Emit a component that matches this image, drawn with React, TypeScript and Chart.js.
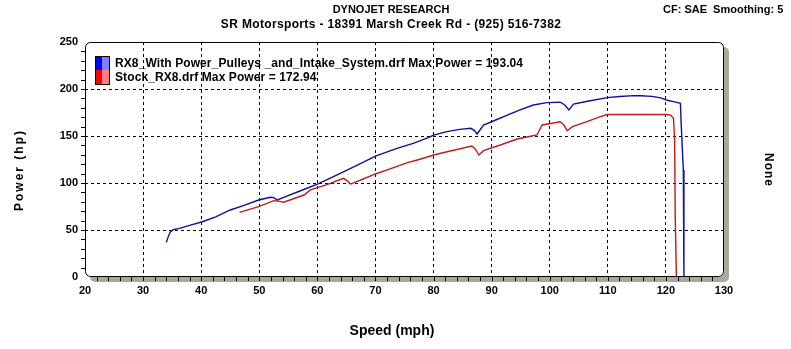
import React, { useEffect, useRef } from "react";
import { Chart, registerables } from "chart.js";
Chart.register(...registerables);

// ---- data ----
const titleLine1 = "DYNOJET RESEARCH";
const titleLine2 = "SR Motorsports - 18391 Marsh Creek Rd - (925) 516-7382";
const cornerText = "CF: SAE  Smoothing: 5";
const xAxisTitle = "Speed (mph)";
const yAxisTitle = "Power (hp)";
const y2AxisTitle = "None";

const xMin = 20;
const xMax = 130;
const xStep = 10;
const yMin = 0;
const yMax = 250;
const yStep = 50;

const blueLabel = "RX8_With Power_Pulleys _and_Intake_System.drf Max Power = 193.04";
const blueSpeed = [
  34.0, 34.4, 34.7, 35.3, 36.1, 38.0, 40.2, 42.5, 45.0, 47.5, 49.9, 51.9, 52.5, 53.1, 54.2,
  57.0, 60.0, 62.5, 65.1, 67.5, 70.0, 73.7, 76.5, 79.2, 80.0, 82.3, 84.5, 86.4, 87.0, 87.5,
  88.6, 90.5, 92.7, 95.0, 97.2, 99.5, 101.8, 102.6, 103.3, 104.1, 106.5, 109.9, 112.0, 114.5,
  115.6, 117.6, 119.1, 120.2, 121.3, 122.5, 122.6, 123.0, 123.1,
];
const bluePower = [
  36.9, 44.0, 48.2, 50.5, 51.5, 55.0, 58.8, 64.0, 71.3, 76.5, 81.9, 84.8, 84.5, 81.9, 84.8,
  91.5, 98.9, 106.0, 113.8, 121.0, 128.7, 136.9, 142.2, 148.6, 151.0, 154.6, 157.0, 158.2, 156.0, 152.1,
  161.7, 166.5, 172.3, 178.0, 183.0, 185.5, 185.9, 183.0, 177.7, 184.0, 187.0, 190.8, 192.0, 193.0,
  192.8, 192.2, 190.6, 188.0, 186.5, 184.8, 167.0, 113.8, 0,
];

const redLabel = "Stock_RX8.drf Max Power = 172.94";
const redSpeed = [
  46.6, 49.9, 52.5, 53.5, 54.2, 56.0, 57.7, 58.8, 61.5, 64.5, 65.2, 65.7, 67.8, 70.0, 72.5,
  75.5, 77.2, 79.5, 80.0, 82.9, 86.6, 87.2, 87.8, 88.6, 91.5, 94.4, 96.5, 97.8, 98.7, 101.8,
  102.4, 103.0, 103.9, 106.4, 108.5, 109.9, 115.0, 120.2, 120.8, 121.3, 121.5, 121.6, 121.8,
];
const redPower = [
  68.8, 74.8, 81.2, 80.5, 79.5, 83.5, 87.2, 92.6, 98.0, 105.0, 102.0, 98.9, 104.0, 109.6, 115.0,
  121.6, 124.5, 128.7, 129.8, 134.0, 139.4, 136.0, 129.8, 134.4, 140.4, 146.8, 149.5, 151.1, 161.7, 165.2,
  162.0, 155.6, 159.9, 165.2, 170.0, 172.9, 172.9, 172.9, 172.3, 168.8, 145.7, 67.7, 0,
];

const FONT = "'Liberation Sans', Arial, sans-serif";
const SHADOW = "#aca899";

function roundRect(ctx: CanvasRenderingContext2D, x: number, y: number, w: number, h: number, r: number) {
  ctx.beginPath();
  ctx.moveTo(x + r, y);
  ctx.lineTo(x + w - r, y);
  ctx.arcTo(x + w, y, x + w, y + r, r);
  ctx.lineTo(x + w, y + h - r);
  ctx.arcTo(x + w, y + h, x + w - r, y + h, r);
  ctx.lineTo(x + r, y + h);
  ctx.arcTo(x, y + h, x, y + h - r, r);
  ctx.lineTo(x, y + r);
  ctx.arcTo(x, y, x + r, y, r);
  ctx.closePath();
}

const framePlugin = {
  id: "frame",
  beforeDraw(chart: any) {
    const { ctx, chartArea: a } = chart;
    ctx.save();
    ctx.fillStyle = "#fff";
    ctx.fillRect(0, 0, chart.width, chart.height);
    ctx.fillStyle = SHADOW;
    roundRect(ctx, a.left + 5, a.top + 5, a.right - a.left, a.bottom - a.top, 5);
    ctx.fill();
    ctx.fillStyle = "#fff";
    roundRect(ctx, a.left, a.top, a.right - a.left, a.bottom - a.top, 5);
    ctx.fill();
    ctx.restore();
  },
  afterDraw(chart: any) {
    const { ctx, chartArea: a } = chart;
    const xs = chart.scales.x;
    const ys = chart.scales.y;
    ctx.save();
    // frame
    ctx.strokeStyle = "#000";
    ctx.lineWidth = 1;
    roundRect(ctx, a.left + 0.5, a.top + 0.5, a.right - a.left - 1, a.bottom - a.top - 1, 5);
    ctx.stroke();

    // minor ticks on bottom strip
    ctx.beginPath();
    for (let v = xMin + 2; v < xMax; v += 2) {
      const px = Math.round(xs.getPixelForValue(v)) + 0.5;
      ctx.moveTo(px, a.bottom);
      ctx.lineTo(px, a.bottom + 4);
    }
    // y minor ticks (left, outside)
    for (let v = yMin + 10; v < yMax; v += 10) {
      const py = Math.round(ys.getPixelForValue(v)) + 0.5;
      ctx.moveTo(a.left - 4, py);
      ctx.lineTo(a.left, py);
    }
    ctx.stroke();

    // tick labels
    ctx.fillStyle = "#000";
    ctx.font = `bold 11px ${FONT}`;
    ctx.textAlign = "center";
    ctx.textBaseline = "middle";
    xs.ticks.forEach((t: any) => {
      ctx.fillText(String(t.value), xs.getPixelForValue(t.value), a.bottom + 14);
    });
    ctx.textAlign = "right";
    ys.ticks.forEach((t: any) => {
      ctx.fillText(String(t.value), a.left - 7, ys.getPixelForValue(t.value));
    });

    // titles
    ctx.textAlign = "center";
    ctx.font = `bold 11px ${FONT}`;
    ctx.fillText(titleLine1, 391, 10);
    ctx.save();
    ctx.font = `bold 12px ${FONT}`;
    (ctx as any).letterSpacing = "0.35px";
    ctx.fillText(titleLine2, 391, 25);
    ctx.restore();
    ctx.textAlign = "left";
    ctx.fillText(cornerText, 663, 10);

    ctx.font = `bold 14px ${FONT}`;
    ctx.textAlign = "center";
    ctx.fillText(xAxisTitle, 392, 331);

    ctx.font = `bold 12px ${FONT}`;
    ctx.save();
    ctx.translate(20, 170);
    ctx.rotate(-Math.PI / 2);
    (ctx as any).letterSpacing = "2px";
    ctx.fillText(yAxisTitle, 0, 0);
    ctx.restore();

    ctx.save();
    ctx.translate(768, 170);
    ctx.rotate(Math.PI / 2);
    (ctx as any).letterSpacing = "1px";
    ctx.fillText(y2AxisTitle, 0, 0);
    ctx.restore();

    // legend
    const sw = [
      ["#0000ff", "#8080ff"],
      ["#ff0000", "#ff8080"],
    ];
    const lx = 95;
    const ly = 56;
    chart.data.datasets.forEach((ds: any, i: number) => {
      const y0 = ly + i * 14;
      ctx.fillStyle = sw[i][0];
      ctx.fillRect(lx, y0, 7, 14);
      ctx.fillStyle = sw[i][1];
      ctx.fillRect(lx + 7, y0, 7, 14);
      ctx.save();
      ctx.fillStyle = "#000";
      ctx.font = `bold 12px ${FONT}`;
      (ctx as any).letterSpacing = "0.1px";
      ctx.textAlign = "left";
      ctx.textBaseline = "middle";
      ctx.fillText(ds.label, lx + 20, y0 + 7.5);
      ctx.restore();
    });
    ctx.strokeStyle = "#000";
    ctx.strokeRect(lx + 0.5, ly + 0.5, 14, 28);

    ctx.restore();
  },
};

export default function App() {
  const ref = useRef<HTMLCanvasElement>(null);
  useEffect(() => {
    document.body.style.margin = "0";
    const edgeHide = (lo: number, hi: number) => (c: any) =>
      c.tick && (c.tick.value === lo || c.tick.value === hi) ? "rgba(0,0,0,0)" : "#000";
    const chart = new Chart(ref.current as HTMLCanvasElement, {
      type: "line",
      data: {
        datasets: [
          {
            label: blueLabel,
            data: blueSpeed.map((x, i) => ({ x, y: bluePower[i] })),
            borderColor: "#10109c",
            borderWidth: 1.4,
            pointRadius: 0,
            tension: 0,
          },
          {
            label: redLabel,
            data: redSpeed.map((x, i) => ({ x, y: redPower[i] })),
            borderColor: "#c41a1a",
            borderWidth: 1.4,
            pointRadius: 0,
            tension: 0,
          },
        ],
      },
      options: {
        responsive: false,
        animation: false,
        devicePixelRatio: 1,
        layout: { padding: { left: 85, top: 42, right: 67, bottom: 72 } },
        plugins: { legend: { display: false }, tooltip: { enabled: false } },
        scales: {
          x: {
            type: "linear",
            min: xMin,
            max: xMax,
            ticks: { display: false, stepSize: xStep },
            grid: { color: edgeHide(xMin, xMax), drawTicks: false, lineWidth: 1 },
            border: { display: false, dash: [3, 3] },
            afterFit: (s: any) => {
              s.height = 0;
            },
          },
          y: {
            min: yMin,
            max: yMax,
            ticks: { display: false, stepSize: yStep },
            grid: { color: edgeHide(yMin, yMax), drawTicks: false, lineWidth: 1 },
            border: { display: false, dash: [3, 3] },
            afterFit: (s: any) => {
              s.width = 0;
            },
          },
        },
      },
      plugins: [framePlugin],
    } as any);
    return () => chart.destroy();
  }, []);
  return (
    <div style={{ width: 791, height: 349 }}>
      <canvas ref={ref} width={791} height={349} style={{ display: "block", width: 791, height: 349 }} />
    </div>
  );
}
